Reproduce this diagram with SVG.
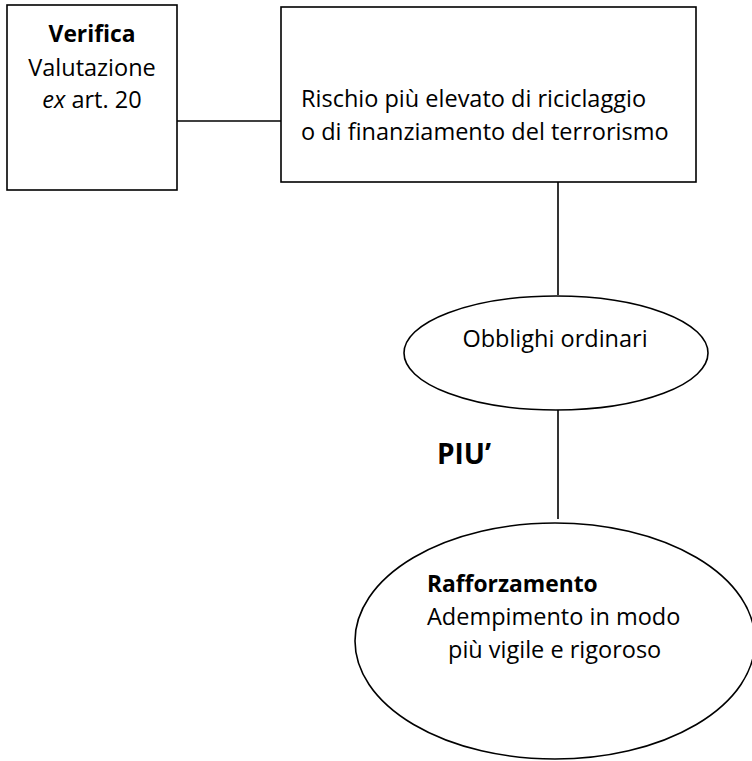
<svg xmlns="http://www.w3.org/2000/svg" width="752" height="761" viewBox="0 0 752 761">
<style>
.shape{fill:#fff;stroke:#000;stroke-width:1.6}
.conn line{stroke:#000;stroke-width:1.6}
text{font-family:"Open Sans","Liberation Sans",sans-serif;font-size:23.5px;fill:#000}
.b{font-weight:bold;font-size:22.8px}
</style>
<rect width="752" height="761" fill="#fff"/>
<g id="connectors" class="conn">
<line x1="177" y1="121" x2="282" y2="121"/>
<line x1="558" y1="182" x2="558" y2="295"/>
<line x1="558" y1="410" x2="558" y2="519"/>
</g>
<g id="verifica">
<rect class="shape" x="7" y="5" width="170" height="185"/>
<text x="92" y="42" text-anchor="middle" class="b">Verifica</text>
<text x="92" y="76" text-anchor="middle">Valutazione</text>
<text x="92" y="108" text-anchor="middle"><tspan font-style="italic">ex</tspan> art. 20</text>
</g>
<g id="rischio">
<rect class="shape" x="281" y="7" width="415" height="175"/>
<text x="301" y="107">Rischio più elevato di riciclaggio</text>
<text x="301" y="140">o di finanziamento del terrorismo</text>
</g>
<g id="obblighi">
<ellipse class="shape" cx="556" cy="353" rx="152" ry="57"/>
<text x="555" y="347" text-anchor="middle">Obblighi ordinari</text>
</g>
<g id="piu">
<text x="437" y="464" class="b" style="font-size:28px">PIU’</text>
</g>
<g id="rafforzamento">
<ellipse class="shape" cx="555" cy="641" rx="200" ry="118"/>
<text x="427" y="592" class="b">Rafforzamento</text>
<text x="427" y="625">Adempimento in modo</text>
<text x="448" y="658">più vigile e rigoroso</text>
</g>
</svg>
